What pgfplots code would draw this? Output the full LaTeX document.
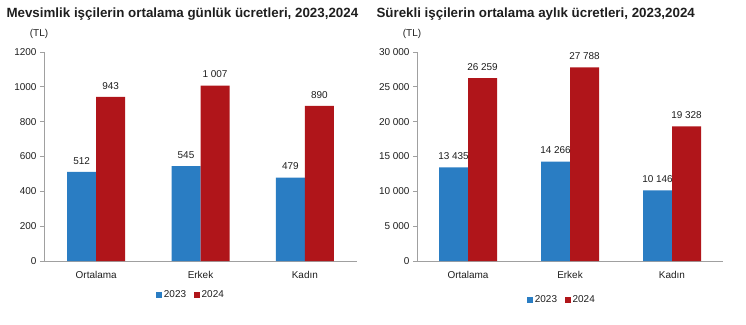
\documentclass[border=0pt]{standalone}
\usepackage{pgfplots}
\pgfplotsset{compat=1.18}
\usepackage{pgfplotstable}
\usepackage{fontspec}
\setmainfont{Liberation Sans}
\definecolor{cblue}{RGB}{42,125,195}
\definecolor{cred}{RGB}{176,21,26}
\definecolor{axgray}{RGB}{160,160,160}
\definecolor{txt}{RGB}{30,30,30}

\pgfplotstableread{
x y lab
0 512 512
1 545 545
2 479 479
}\lefta
\pgfplotstableread{
x y lab
0 943 943
1 1007 {1\ 007}
2 890 890
}\leftb
\pgfplotstableread{
x y lab
0 13435 {13\ 435}
1 14266 {14\ 266}
2 10146 {10\ 146}
}\righta
\pgfplotstableread{
x y lab
0 26259 {26\ 259}
1 27788 {27\ 788}
2 19328 {19\ 328}
}\rightb

\pgfplotsset{
  mystyle/.style={
    scale only axis,
    height=209bp,
    ymin=0,
    xmin=-0.5, xmax=2.5,
    axis x line*=bottom, axis y line*=left,
    axis line style={axgray, line width=0.8pt},
    every tick/.style={axgray, line width=0.8pt},
    tick align=outside,
    major tick length=4bp,
    minor tick length=4bp,
    xtick={0,1,2},
    xticklabels={Ortalama,Erkek,Kadın},
    x tick style={draw=none},
    minor xtick={-0.5,0.5,1.5,2.5},
    minor x tick style={axgray, line width=0.8pt},
    scaled y ticks=false,
    tick label style={font=\fontsize{10}{12}\selectfont, text=txt},
    xticklabel style={yshift=-2.5bp},
    ybar, bar width=29bp,
    ymajorgrids=false,
    nodes near coords={\pgfplotspointmeta},
    point meta=explicit symbolic,
    every node near coord/.append style={font=\fontsize{10}{12}\selectfont, text=txt, yshift=4bp},
    legend columns=2,
    legend style={draw=none, font=\fontsize{10}{12}\selectfont, text=txt,
      /tikz/every even column/.append style={column sep=6bp}},
    legend image code/.code={\fill (0bp,-2.8bp) rectangle (5.6bp,2.8bp);},
  }
}

\begin{document}
\begin{tikzpicture}[x=1bp,y=1bp]
\path[use as bounding box] (0,0) rectangle (746,324);

\node[anchor=west, font=\bfseries\fontsize{13.4}{15}\selectfont, text=txt] at (3,310) {Mevsimlik işçilerin ortalama günlük ücretleri, 2023,2024};
\node[anchor=west, font=\bfseries\fontsize{13.4}{15}\selectfont, text=txt] at (373,310) {Sürekli işçilerin ortalama aylık ücretleri, 2023,2024};
\node[font=\fontsize{10}{12}\selectfont, text=txt] at (39,290) {(TL)};
\node[font=\fontsize{10}{12}\selectfont, text=txt] at (412,290) {(TL)};

\begin{axis}[mystyle, at={(44bp,63bp)}, anchor=south west, width=313bp,
  ymax=1200, ytick={0,200,...,1200},
  yticklabels={0,200,400,600,800,1000,1200},
  legend style={at={(0.47,-0.163)}, anchor=center}]
\addplot[fill=cblue, draw=none, bar shift=-14.5bp] table[x=x,y=y,meta=lab] {\lefta};
\addplot[fill=cred, draw=none, bar shift=14.5bp] table[x=x,y=y,meta=lab] {\leftb};
\legend{2023,2024}
\end{axis}

\begin{axis}[mystyle, at={(417bp,63bp)}, anchor=south west, width=306bp,
  ymax=30000, ytick={0,5000,...,30000},
  yticklabels={0,5\ 000,10\ 000,15\ 000,20\ 000,25\ 000,30\ 000},
  legend style={at={(0.474,-0.187)}, anchor=center}]
\addplot[fill=cblue, draw=none, bar shift=-14.5bp] table[x=x,y=y,meta=lab] {\righta};
\addplot[fill=cred, draw=none, bar shift=14.5bp] table[x=x,y=y,meta=lab] {\rightb};
\legend{2023,2024}
\end{axis}
\end{tikzpicture}
\end{document}
